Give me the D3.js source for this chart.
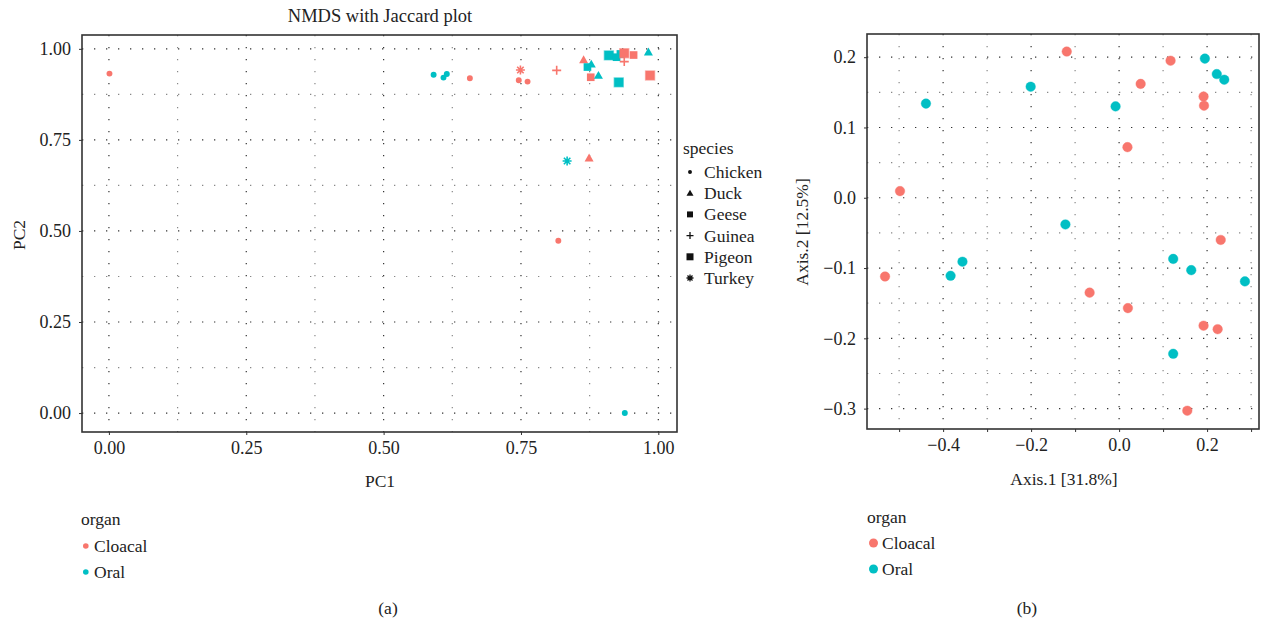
<!DOCTYPE html>
<html>
<head>
<meta charset="utf-8">
<script src="https://cdn.jsdelivr.net/npm/d3@7"></script>
<style>
  body { margin: 0; background: #fff; }
  text { font-family: "Liberation Serif", "DejaVu Serif", serif; fill: #222; }
</style>
</head>
<body>
<div id="chart_area"></div>
<script>
// categories
var speciesList = ["Chicken", "Duck", "Geese", "Guinea", "Pigeon", "Turkey"];
var organList = ["Cloacal", "Oral"];
var organColors = ["#F8766D", "#00BFC4"];

// (a) NMDS with Jaccard
var nmdsSpecies = ["Chicken", "Chicken", "Chicken", "Chicken", "Turkey", "Chicken", "Chicken", "Guinea",
    "Duck", "Geese", "Duck", "Geese", "Duck", "Pigeon", "Geese", "Geese", "Pigeon", "Guinea",
    "Pigeon", "Geese", "Duck", "Pigeon", "Turkey", "Duck", "Chicken", "Chicken", "Chicken"];
var nmdsOrgan = ["Oral", "Oral", "Oral", "Cloacal", "Cloacal", "Cloacal", "Cloacal", "Cloacal",
    "Cloacal", "Oral", "Oral", "Cloacal", "Oral", "Oral", "Oral", "Oral", "Cloacal", "Cloacal",
    "Oral", "Cloacal", "Oral", "Cloacal", "Oral", "Cloacal", "Cloacal", "Cloacal", "Oral"];
var nmdsPC1 = [0.591, 0.609, 0.615, 0.657, 0.749, 0.746, 0.762, 0.815,
    0.864, 0.871, 0.878, 0.877, 0.891, 0.910, 0.924, 0.931, 0.938, 0.938,
    0.928, 0.955, 0.982, 0.985, 0.834, 0.874, 0.818, 0.001, 0.939];
var nmdsPC2 = [0.929, 0.921, 0.931, 0.919, 0.942, 0.914, 0.910, 0.941,
    0.970, 0.950, 0.958, 0.922, 0.927, 0.982, 0.977, 0.986, 0.988, 0.965,
    0.908, 0.983, 0.991, 0.927, 0.692, 0.700, 0.473, 0.932, 0.000];
var nmdsTicks = [0, 0.25, 0.5, 0.75, 1];
var nmdsMinor = [0.125, 0.375, 0.625, 0.875];

// (b) PCoA
var pcoaOrgan = ["Cloacal", "Oral", "Oral", "Cloacal", "Oral", "Oral", "Oral", "Cloacal", "Cloacal",
    "Cloacal", "Oral", "Cloacal", "Cloacal", "Oral", "Cloacal", "Oral", "Oral", "Cloacal",
    "Cloacal", "Oral", "Oral", "Cloacal", "Oral", "Cloacal", "Cloacal", "Oral", "Cloacal"];
var pcoaAxis1 = [-0.119, -0.439, -0.201, 0.117, 0.195, 0.222, 0.239, 0.049, 0.192,
    0.193, -0.008, 0.019, -0.498, -0.122, -0.532, -0.383, -0.356, -0.067,
    0.020, 0.123, 0.164, 0.231, 0.286, 0.192, 0.224, 0.123, 0.155];
var pcoaAxis2 = [0.208, 0.134, 0.158, 0.195, 0.198, 0.176, 0.168, 0.162, 0.144,
    0.131, 0.130, 0.072, 0.0095, -0.038, -0.112, -0.111, -0.091, -0.135,
    -0.157, -0.087, -0.103, -0.060, -0.119, -0.182, -0.187, -0.222, -0.303];
var pcoaXTicks = [-0.4, -0.2, 0, 0.2];
var pcoaXMinor = [-0.5, -0.3, -0.1, 0.1, 0.3];
var pcoaYTicks = [-0.3, -0.2, -0.1, 0, 0.1, 0.2];
var pcoaYMinor = [-0.25, -0.15, -0.05, 0.05, 0.15];

var svg = d3.select("#chart_area")
    .append("svg")
    .attr("width", 1261)
    .attr("height", 620);

function colorOf(organ) {
    return organColors[organList.indexOf(organ)];
}

// shape path for a species, centred on 0,0
function shapePath(sp, s) {
    var h = s / 2;
    if (sp == "Chicken") {
        return d3.symbol().type(d3.symbolCircle).size(Math.PI * Math.pow(s * 0.33, 2))();
    }
    if (sp == "Duck") {
        return "M0," + (-h) + "L" + h + "," + (h * 0.75) + "L" + (-h) + "," + (h * 0.75) + "Z";
    }
    if (sp == "Geese") {
        var g = h * 0.85;
        return "M" + (-g) + "," + (-g) + "H" + g + "V" + g + "H" + (-g) + "Z";
    }
    if (sp == "Pigeon") {
        return "M" + (-h) + "," + (-h) + "H" + h + "V" + h + "H" + (-h) + "Z";
    }
    if (sp == "Guinea") {
        return "M" + (-h) + ",0H" + h + "M0," + (-h) + "V" + h;
    }
    // Turkey asterisk
    var d = h * 0.72;
    return "M" + (-h) + ",0H" + h + "M0," + (-h) + "V" + h +
        "M" + (-d) + "," + (-d) + "L" + d + "," + d + "M" + (-d) + "," + d + "L" + d + "," + (-d);
}
function isLine(sp) { return sp == "Guinea" || sp == "Turkey"; }

function drawGrid(g, x, y, xMajor, xMinor, yMajor, yMinor) {
    var x0 = x.range()[0], x1 = x.range()[1], y0 = y.range()[0], y1 = y.range()[1];
    g.selectAll("line.vminor").data(xMinor).enter().append("line")
        .attr("x1", function (d) { return x(d); }).attr("x2", function (d) { return x(d); })
        .attr("y1", y1).attr("y2", y0)
        .attr("stroke", "#888").attr("stroke-width", 1.2).attr("stroke-dasharray", "1.3,10.7");
    g.selectAll("line.hminor").data(yMinor).enter().append("line")
        .attr("y1", function (d) { return y(d); }).attr("y2", function (d) { return y(d); })
        .attr("x1", x0).attr("x2", x1)
        .attr("stroke", "#888").attr("stroke-width", 1.2).attr("stroke-dasharray", "1.3,10.7");
    g.selectAll("line.vmajor").data(xMajor).enter().append("line")
        .attr("x1", function (d) { return x(d); }).attr("x2", function (d) { return x(d); })
        .attr("y1", y1).attr("y2", y0)
        .attr("stroke", "#333").attr("stroke-width", 1.2).attr("stroke-dasharray", "1.3,10.7");
    g.selectAll("line.hmajor").data(yMajor).enter().append("line")
        .attr("y1", function (d) { return y(d); }).attr("y2", function (d) { return y(d); })
        .attr("x1", x0).attr("x2", x1)
        .attr("stroke", "#333").attr("stroke-width", 1.2).attr("stroke-dasharray", "1.3,10.7");
}

function styleAxis(a) {
    a.select(".domain").remove();
    a.selectAll(".tick line").attr("stroke", "#333");
    a.selectAll("text").style("font-size", "18px").attr("fill", "#222")
        .style("font-family", "'Liberation Serif', serif");
}

// ---------------- panel (a) ----------------
var ax = d3.scaleLinear().domain([-0.049, 1.034]).range([82, 677]);
var ay = d3.scaleLinear().domain([-0.052, 1.038]).range([432, 35]);
var ga = svg.append("g");

drawGrid(ga, ax, ay, nmdsTicks, nmdsMinor, nmdsTicks, nmdsMinor);

ga.append("g")
    .attr("transform", "translate(0,432)")
    .call(d3.axisBottom(ax).tickValues(nmdsTicks).tickFormat(d3.format(".2f")).tickSize(3).tickPadding(6))
    .call(styleAxis);
ga.append("g")
    .attr("transform", "translate(82,0)")
    .call(d3.axisLeft(ay).tickValues(nmdsTicks).tickFormat(d3.format(".2f")).tickSize(3).tickPadding(8))
    .call(styleAxis);

ga.append("rect")
    .attr("x", 82).attr("y", 35).attr("width", 595).attr("height", 397)
    .attr("fill", "none").attr("stroke", "#333").attr("stroke-width", 1.6);

ga.selectAll("path.pt")
    .data(d3.range(nmdsPC1.length))
    .enter()
    .append("path")
    .attr("class", "pt")
    .attr("transform", function (i) { return "translate(" + ax(nmdsPC1[i]) + "," + ay(nmdsPC2[i]) + ")"; })
    .attr("d", function (i) { return shapePath(nmdsSpecies[i], 9); })
    .attr("fill", function (i) { return isLine(nmdsSpecies[i]) ? "none" : colorOf(nmdsOrgan[i]); })
    .attr("stroke", function (i) { return colorOf(nmdsOrgan[i]); })
    .attr("stroke-width", function (i) { return isLine(nmdsSpecies[i]) ? 1.6 : (nmdsSpecies[i] == "Pigeon" ? 1.4 : 0); })
    .attr("stroke-opacity", function (i) { return isLine(nmdsSpecies[i]) ? 1 : 0.5; });

ga.append("text")
    .attr("x", 380).attr("y", 22)
    .attr("text-anchor", "middle")
    .style("font-size", "18.5px")
    .text("NMDS with Jaccard plot");
ga.append("text")
    .attr("x", 380).attr("y", 487)
    .attr("text-anchor", "middle")
    .style("font-size", "17.5px")
    .text("PC1");
ga.append("text")
    .attr("transform", "translate(25,235)rotate(-90)")
    .attr("text-anchor", "middle")
    .style("font-size", "17.5px")
    .text("PC2");

// species legend
ga.append("text")
    .attr("x", 683).attr("y", 154)
    .style("font-size", "17.5px")
    .text("species");
var sl = ga.selectAll("g.sp")
    .data(speciesList)
    .enter()
    .append("g")
    .attr("transform", function (d, i) { return "translate(690," + (172 + i * 21.2) + ")"; });
sl.append("path")
    .attr("d", function (d) { return shapePath(d, d == "Chicken" ? 6 : 7); })
    .attr("fill", function (d) { return isLine(d) ? "none" : "#111"; })
    .attr("stroke", "#111")
    .attr("stroke-width", function (d) { return isLine(d) ? 1.3 : 0; });
sl.append("text")
    .attr("x", 14).attr("y", 6)
    .style("font-size", "17.5px")
    .text(function (d) { return d; });

// organ legend
function organLegend(g, x, y, r, textX, first) {
    g.append("text").attr("x", x).attr("y", y).style("font-size", "17.5px").text("organ");
    var it = g.selectAll("g.org").data(organList).enter().append("g")
        .attr("transform", function (d, i) { return "translate(0," + (y + first + i * 26) + ")"; });
    it.append("circle").attr("cx", x + 2 + r).attr("cy", 0).attr("r", r)
        .attr("fill", function (d, i) { return organColors[i]; });
    it.append("text").attr("x", textX).attr("y", 6).style("font-size", "17.5px")
        .text(function (d) { return d; });
}
organLegend(ga, 81, 525, 2.8, 94, 21);

ga.append("text")
    .attr("x", 388).attr("y", 614)
    .attr("text-anchor", "middle")
    .style("font-size", "17.5px")
    .text("(a)");

// ---------------- panel (b) ----------------
var bx = d3.scaleLinear().domain([-0.573, 0.318]).range([867, 1259]);
var by = d3.scaleLinear().domain([-0.329, 0.233]).range([429, 34]);
var gb = svg.append("g");

drawGrid(gb, bx, by, pcoaXTicks, pcoaXMinor, pcoaYTicks, pcoaYMinor);

gb.append("g")
    .attr("transform", "translate(0,429)")
    .call(d3.axisBottom(bx).tickValues(pcoaXTicks.concat(pcoaXMinor)).tickSize(3).tickPadding(6)
        .tickFormat(function (d) { return pcoaXTicks.indexOf(d) >= 0 ? d3.format(".1f")(d) : ""; }))
    .call(styleAxis);
gb.append("g")
    .attr("transform", "translate(867,0)")
    .call(d3.axisLeft(by).tickValues(pcoaYTicks).tickFormat(d3.format(".1f")).tickSize(3).tickPadding(8))
    .call(styleAxis);

gb.append("rect")
    .attr("x", 867).attr("y", 34).attr("width", 392).attr("height", 395)
    .attr("fill", "none").attr("stroke", "#333").attr("stroke-width", 1.6);

gb.selectAll("circle.pt")
    .data(d3.range(pcoaAxis1.length))
    .enter()
    .append("circle")
    .attr("class", "pt")
    .attr("cx", function (i) { return bx(pcoaAxis1[i]); })
    .attr("cy", function (i) { return by(pcoaAxis2[i]); })
    .attr("r", 4.8)
    .attr("fill", function (i) { return colorOf(pcoaOrgan[i]); })
    .attr("stroke", function (i) { return colorOf(pcoaOrgan[i]); })
    .attr("stroke-opacity", 0.4)
    .attr("stroke-width", 1);

gb.append("text")
    .attr("x", 1064).attr("y", 485)
    .attr("text-anchor", "middle")
    .style("font-size", "17.5px")
    .text("Axis.1 [31.8%]");
gb.append("text")
    .attr("transform", "translate(808,232)rotate(-90)")
    .attr("text-anchor", "middle")
    .style("font-size", "17.5px")
    .text("Axis.2 [12.5%]");

organLegend(gb, 867, 523, 4.5, 882, 20);

gb.append("text")
    .attr("x", 1027).attr("y", 614)
    .attr("text-anchor", "middle")
    .style("font-size", "17.5px")
    .text("(b)");
</script>
</body>
</html>
